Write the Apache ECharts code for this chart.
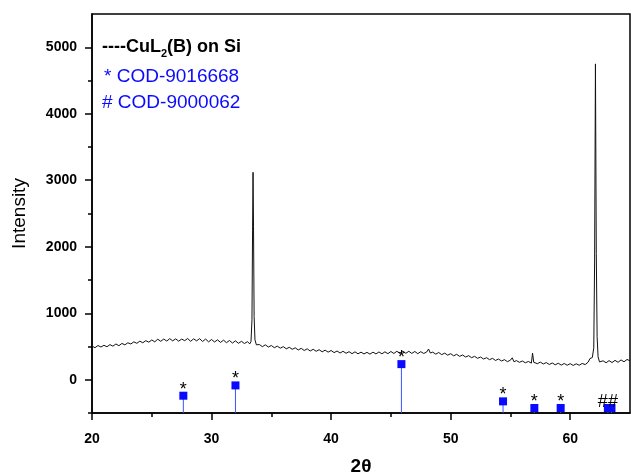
<!DOCTYPE html>
<html>
<head>
<meta charset="utf-8">
<title>XRD CuL2(B) on Si</title>
<script src="https://cdn.jsdelivr.net/npm/echarts@6/dist/echarts.min.js"></script>
<style>
  html, body { margin: 0; padding: 0; background: #fff; }
  #xrd-chart { width: 631px; height: 473px; }
</style>
</head>
<body>
<div id="xrd-chart"></div>
<script>
// 测得的衍射图谱 [2θ, intensity]
const pattern = [
  [20.00, 505], [20.25, 482], [20.50, 515], [20.75, 492],
  [21.00, 518], [21.25, 496], [21.50, 528], [21.75, 505],
  [22.00, 538], [22.25, 512], [22.50, 546], [22.75, 525],
  [23.00, 556], [23.25, 538], [23.50, 570], [23.75, 548],
  [24.00, 580], [24.25, 556], [24.50, 588], [24.75, 565],
  [25.00, 598], [25.25, 570], [25.50, 610], [25.75, 578],
  [26.00, 612], [26.25, 582], [26.50, 618], [26.75, 585],
  [27.00, 615], [27.25, 580], [27.50, 612], [27.75, 588],
  [28.00, 620], [28.25, 578], [28.50, 615], [28.75, 585],
  [29.00, 618], [29.25, 575], [29.50, 612], [29.75, 570],
  [30.00, 605], [30.25, 568], [30.50, 600], [30.75, 562],
  [31.00, 595], [31.25, 558], [31.50, 590], [31.75, 552],
  [32.00, 585], [32.25, 548], [32.50, 578], [32.75, 545],
  [33.00, 572], [33.20, 540], [33.30, 575], [33.38, 900], [33.43, 2250],
  [33.47, 3120], [33.51, 2300], [33.56, 950], [33.63, 600], [33.75, 525],
  [34.00, 530], [34.25, 498], [34.50, 525], [34.75, 492],
  [35.00, 515], [35.25, 482], [35.50, 505], [35.75, 475],
  [36.00, 498], [36.25, 465], [36.50, 488], [36.75, 458],
  [37.00, 480], [37.25, 448], [37.50, 472], [37.75, 440],
  [38.00, 465], [38.25, 432], [38.50, 458], [38.75, 428],
  [39.00, 452], [39.25, 420], [39.50, 445], [39.75, 415],
  [40.00, 440], [40.25, 408], [40.50, 432], [40.75, 402],
  [41.00, 428], [41.25, 398], [41.50, 422], [41.75, 392],
  [42.00, 420], [42.25, 390], [42.50, 415], [42.75, 388],
  [43.00, 412], [43.25, 385], [43.50, 415], [43.75, 388],
  [44.00, 418], [44.25, 390], [44.50, 420], [44.75, 392],
  [45.00, 425], [45.25, 395], [45.50, 428], [45.75, 398],
  [46.00, 430], [46.25, 398], [46.50, 428], [46.75, 396],
  [47.00, 425], [47.25, 392], [47.50, 422], [47.75, 395],
  [48.00, 418], [48.15, 462], [48.30, 402], [48.50, 415], [48.75, 385],
  [49.00, 410], [49.25, 378], [49.50, 400], [49.75, 370],
  [50.00, 392], [50.25, 360], [50.50, 382], [50.75, 352],
  [51.00, 372], [51.25, 342], [51.50, 362], [51.75, 332],
  [52.00, 352], [52.25, 322], [52.50, 342], [52.75, 312],
  [53.00, 332], [53.25, 302], [53.50, 322], [53.75, 290],
  [54.00, 312], [54.25, 282], [54.50, 302], [54.75, 272],
  [55.00, 295], [55.15, 330], [55.30, 270], [55.50, 288], [55.75, 262],
  [56.00, 282], [56.25, 255], [56.50, 275], [56.75, 250], [56.85, 400], [56.95, 262],
  [57.25, 242], [57.50, 265], [57.75, 238],
  [58.00, 258], [58.25, 230], [58.50, 252], [58.75, 225],
  [59.00, 248], [59.25, 220], [59.50, 245], [59.75, 218],
  [60.00, 242], [60.25, 215], [60.50, 240], [60.75, 218],
  [61.00, 245], [61.25, 228], [61.50, 265], [61.65, 318], [61.75, 300],
  [61.85, 335], [61.97, 480], [62.04, 1800], [62.11, 4750], [62.18, 1900],
  [62.25, 650], [62.33, 345], [62.45, 268],
  [62.75, 285], [63.00, 255], [63.25, 288], [63.50, 258], [63.75, 292],
  [64.00, 262], [64.25, 298], [64.50, 270], [64.75, 305], [65.00, 285]
]

// 标准卡片峰位 (COD) [2θ, 棒高]
const refSticks = [
  [27.64, -240], [32.00, -85], [45.88, 235], [54.38, -325],
  [57.00, -425], [59.20, -425], [63.15, -425], [63.45, -425]
]
const refMarks = ['*', '*', '*', '*', '*', '*', '##', '']

// 坐标轴刻度
const xRange = [20, 65]
const yRange = [-500, 5500]
const xMajorTicks = [20, 30, 40, 50, 60]
const xMinorTicks = [25, 35, 45, 55]
const yMajorTicks = [0, 1000, 2000, 3000, 4000, 5000]
const yMinorTicks = [-500, 500, 1500, 2500, 3500, 4500]

const FONT = 'Liberation Sans, Arial, sans-serif'
const BLUE = '#0a0aff'

const chart = echarts.init(document.getElementById('xrd-chart'))

const majorAxisX = {
  type: 'value',
  min: xRange[0],
  max: xRange[1],
  name: '2θ',
  nameLocation: 'middle',
  nameGap: 44,
  nameTextStyle: { fontFamily: FONT, fontSize: 19, fontWeight: 'bold', color: '#000' },
  axisLine: { onZero: false, lineStyle: { color: '#000', width: 1.5 } },
  axisTick: { show: true, inside: false, length: 7, customValues: xMajorTicks, lineStyle: { color: '#000', width: 1.5 } },
  axisLabel: {
    customValues: xMajorTicks, margin: 19, fontFamily: FONT, fontSize: 14, fontWeight: 'bold', color: '#000',
    formatter: function (v) { return String(v) }
  },
  splitLine: { show: false }
}
const minorAxisX = {
  type: 'value',
  min: xRange[0],
  max: xRange[1],
  position: 'bottom',
  axisLine: { show: false, onZero: false },
  axisTick: { show: true, length: 4, customValues: xMinorTicks, lineStyle: { color: '#000', width: 1.5 } },
  axisLabel: { show: false },
  splitLine: { show: false }
}
const majorAxisY = {
  type: 'value',
  min: yRange[0],
  max: yRange[1],
  name: 'Intensity',
  nameLocation: 'middle',
  nameGap: 63,
  nameTextStyle: { fontFamily: FONT, fontSize: 19, color: '#000' },
  axisLine: { show: true, onZero: false, lineStyle: { color: '#000', width: 1.5 } },
  axisTick: { show: true, length: 7, customValues: yMajorTicks, lineStyle: { color: '#000', width: 1.5 } },
  axisLabel: {
    customValues: yMajorTicks, margin: 15, fontFamily: FONT, fontSize: 14, fontWeight: 'bold', color: '#000',
    formatter: function (v) { return String(v) }
  },
  splitLine: { show: false }
}
const minorAxisY = {
  type: 'value',
  min: yRange[0],
  max: yRange[1],
  position: 'left',
  axisLine: { show: false, onZero: false },
  axisTick: { show: true, length: 4, customValues: yMinorTicks, lineStyle: { color: '#000', width: 1.5 } },
  axisLabel: { show: false },
  splitLine: { show: false }
}

chart.setOption({
  animation: false,
  backgroundColor: '#fff',
  grid: {
    left: 92, right: 1, top: 14, bottom: 60,
    outerBoundsMode: 'none',
    containLabel: false,
    show: true, borderColor: '#000', borderWidth: 1.5, backgroundColor: 'transparent'
  },
  xAxis: [majorAxisX, minorAxisX],
  yAxis: [majorAxisY, minorAxisY],
  graphic: [
    {
      type: 'text', left: 102, top: 35,
      style: {
        text: '----CuL{sub|2}(B) on Si',
        font: 'bold 18px ' + FONT,
        fill: '#000',
        rich: {
          sub: { fontSize: 11, fontWeight: 'bold', fontFamily: FONT, verticalAlign: 'bottom', lineHeight: 24 }
        },
        lineHeight: 24
      }
    },
    { type: 'text', left: 104, top: 67, style: { text: '* COD-9016668', font: '19px ' + FONT, fill: BLUE } },
    { type: 'text', left: 102, top: 93, style: { text: '# COD-9000062', font: '19px ' + FONT, fill: BLUE } }
  ],
  series: [
    {
      name: 'CuL2(B) on Si',
      type: 'line',
      data: pattern,
      showSymbol: false,
      symbol: 'none',
      lineStyle: { color: '#111', width: 1 },
      z: 3
    },
    {
      name: 'stems',
      type: 'custom',
      data: refSticks,
      renderItem: function (params, api) {
        const top = api.coord([api.value(0), api.value(1)])
        const base = api.coord([api.value(0), yRange[0]])
        return {
          type: 'line',
          shape: { x1: top[0], y1: top[1], x2: base[0], y2: base[1] },
          style: { stroke: '#3b55ff', lineWidth: 1 }
        }
      },
      z: 2
    },
    {
      name: 'COD',
      type: 'scatter',
      data: refSticks,
      symbol: 'rect',
      symbolSize: 8,
      itemStyle: { color: BLUE, opacity: 1 },
      label: {
        show: true,
        position: 'top',
        distance: 0,
        offset: [0, 7],
        fontFamily: FONT,
        fontSize: 18,
        color: '#000',
        formatter: function (p) { return refMarks[p.dataIndex] }
      },
      z: 4
    }
  ]
})
</script>
</body>
</html>
